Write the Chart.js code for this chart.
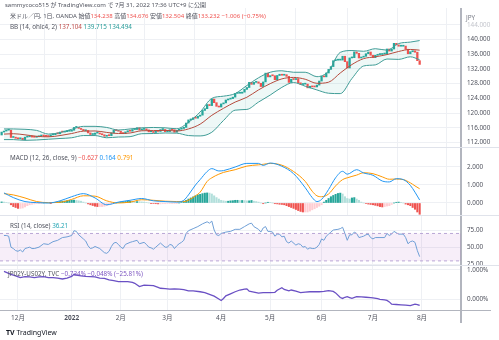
<!DOCTYPE html>
<html>
<head>
<meta charset="utf-8">
<script src="https://cdn.jsdelivr.net/npm/chart.js@4.4.0/dist/chart.umd.min.js"></script>
<style>
  body { margin: 0; width: 499px; height: 340px; overflow: hidden; position: relative; background: #fff;
         font-family: "Noto Sans", "Noto Sans CJK JP", sans-serif; }
  canvas { position: absolute; left: 0; }
  .t { position: absolute; white-space: nowrap; font-size: 6.3px; line-height: 7px; color: #50535e; }
  .r { color: #ef5350; }
  .sep { position: absolute; left: 0; width: 499px; height: 1px; background: #e0e3eb; }
</style>
</head>
<body>
<canvas id="cPrice" width="499" height="139" style="top:8px"></canvas>
<canvas id="cMacd" width="499" height="68" style="top:147px"></canvas>
<canvas id="cRsi" width="499" height="50" style="top:215px"></canvas>
<canvas id="cSpread" width="499" height="75" style="top:265px"></canvas>
<div class="sep" style="top:147px"></div>
<div class="sep" style="top:215px"></div>
<div class="sep" style="top:265px"></div>
<div style="position:absolute;left:460px;top:310px;width:2px;height:13px;background:#b2b5be"></div>
<div style="position:absolute;left:461px;top:310px;width:30px;height:1px;background:#b2b5be"></div>

<div class="t" style="left:5px;top:2px;font-size:6px">sammycoco515 が TradingView.com で 7月 31, 2022 17:36 UTC+9 に公開</div>
<div class="t" style="left:10px;top:13px;font-size:6px">米ドル／円, 1日, OANDA 始値<span class="r">134.238</span> 高値<span class="r">134.676</span> 安値<span class="r">132.504</span> 終値<span class="r">133.232</span> <span class="r">−1.006 (−0.75%)</span></div>
<div class="t" style="left:10px;top:23px">BB (14, ohlc4, 2) <span style="color:#c0504d">137.104</span> <span style="color:#2a9d9a">139.715</span> <span style="color:#2a9d9a">134.494</span></div>
<div class="t" style="left:466px;top:14px;color:#787b86">JPY</div>
<div class="t" style="left:10px;top:154px">MACD (12, 26, close, 9) <span class="r">−0.627</span> <span style="color:#2196f3">0.164</span> <span style="color:#ff9800">0.791</span></div>
<div class="t" style="left:10px;top:222px">RSI (14, close) <span style="color:#26a6b4">36.21</span></div>
<div class="t" style="left:8px;top:270px">JP02Y-US02Y, TVC <span style="color:#7e57c2">−0.734% −0.048% (−25.81%)</span></div>
<div class="t" style="left:6px;top:329px;font-size:7px;color:#131722"><b>TV</b> TradingView</div>

<script>
// USD/JPY daily closes, 2021-11-22 .. 2022-07-29 (one bar per weekday)
const closes = [
  114.85, 115.12, 115.36, 115.36, 113.38,
  113.47, 113.16, 113.02, 113.18, 112.79,
  113.47, 113.56, 113.71, 113.48, 113.43,
  113.56, 113.72, 114.05, 113.71, 113.69,
  113.64, 114.08, 114.14, 114.42, 114.37,
  114.85, 114.84, 114.96, 115.07, 115.08,
  115.34, 116.11, 116.13, 115.84, 115.56,
  115.20, 115.28, 114.62, 114.18, 114.20,
  114.57, 114.59, 114.33, 114.12, 113.70,
  113.96, 113.86, 114.64, 115.32, 115.25,
  115.08, 114.70, 114.43, 114.90, 115.21,
  115.08, 115.53, 115.55, 116.03, 115.42,
  115.57, 115.68, 115.44, 114.91, 115.03,
  114.73, 115.08, 115.01, 115.52, 115.54,
  114.95, 114.98, 115.49, 115.48, 114.80,
  115.31, 115.62, 115.82, 116.13, 117.30,
  118.15, 118.28, 118.73, 118.62, 119.15,
  119.45, 120.73, 121.20, 122.33, 122.04,
  123.81, 122.83, 121.85, 121.65, 122.50,
  122.77, 123.57, 123.80, 123.95, 124.34,
  125.35, 125.39, 125.40, 125.70, 126.45,
  126.95, 128.35, 127.82, 128.35, 128.48,
  128.11, 127.22, 128.47, 130.86, 129.84,
  130.18, 130.15, 129.08, 130.22, 130.56,
  130.29, 130.44, 129.98, 128.34, 129.21,
  129.12, 129.36, 128.23, 127.77, 127.86,
  127.88, 126.86, 127.30, 127.12, 127.11,
  127.62, 128.71, 130.04, 129.85, 130.90,
  131.88, 132.64, 134.24, 134.38, 134.40,
  134.41, 135.45, 133.98, 132.26, 134.99,
  135.07, 136.62, 136.24, 134.97, 135.21,
  135.43, 136.14, 136.60, 135.72, 135.08,
  135.71, 135.90, 135.93, 136.05, 136.07,
  137.42, 136.86, 137.41, 138.96, 138.54,
  138.17, 138.17, 138.21, 137.35, 136.12,
  136.68, 136.92, 136.54, 134.24, 133.23
];
const firstOpen = 114.05;

// month starts (bar index) and their labels
const monthIdx = [7, 30, 51, 71, 94, 115, 137, 159, 180];
const monthLabels = ['12月', '2022', '2月', '3月', '4月', '5月', '6月', '7月', '8月'];

// Bollinger bands (14, ohlc4, 2), read every few bars
const bbIdx = [1, 5, 10, 15, 20, 25, 30, 35, 40, 45, 50, 55, 60, 65, 70, 75, 80, 85, 90, 95,
  100, 105, 110, 115, 120, 125, 130, 135, 140, 145, 150, 155, 160, 165, 170, 175, 179];
const bbUpper = [115.7, 115.7, 115.6, 115.3, 114.3, 114.7, 115.6, 116.4, 116.4, 116.1, 115.4, 115.7, 116.0, 116.1, 116.0, 115.75, 117.5, 120.3, 124.0, 124.6,
  125.3, 127.5, 129.6, 131.1, 131.5, 131.1, 131.1, 129.9, 131.4, 136.5, 137.0, 136.8, 137.5, 137.1, 138.9, 139.3, 139.715];
const bbMid = [114.3, 114.4, 114.1, 113.7, 113.55, 113.9, 114.45, 115.1, 115.15, 114.75, 114.45, 114.6, 115.2, 115.25, 115.3, 115.15, 115.7, 117.0, 119.4, 121.3,
  123.0, 124.3, 126.3, 128.0, 129.3, 129.7, 129.2, 128.1, 128.4, 130.9, 133.2, 134.8, 135.3, 135.9, 136.75, 137.3, 137.104];
const bbLower = [112.8, 112.8, 112.6, 112.7, 112.9, 113.1, 113.3, 113.9, 113.9, 113.3, 113.5, 113.6, 114.4, 114.45, 114.6, 114.55, 113.9, 113.8, 114.8, 118.0,
  120.8, 121.0, 123.0, 124.9, 127.0, 128.3, 127.3, 126.3, 125.4, 125.3, 129.4, 132.8, 133.1, 134.7, 134.6, 135.3, 134.494];

// MACD (12, 26, close, 9)
const macdIdx = [1, 5, 10, 15, 20, 25, 30, 35, 40, 45, 50, 55, 60, 65, 70, 75, 78, 80, 83, 85,
  88, 90, 93, 95, 100, 105, 110, 112, 115, 120, 125, 130, 133, 135, 137, 140, 143, 146, 148, 152,
  155, 159, 163, 166, 169, 172, 175, 177, 179];
const macdLine = [0.56, 0.30, 0.08, 0.02, 0.0, 0.12, 0.35, 0.52, 0.28, -0.10, 0.05, 0.15, 0.25, 0.12, 0.08, 0.05, 0.15, 0.45, 1.0, 1.3,
  1.75, 1.91, 1.78, 1.80, 2.0, 2.2, 2.2, 2.09, 2.22, 2.04, 1.63, 0.85, 0.30, 0.08, 0.20, 0.75, 1.40, 1.76, 1.60, 1.85,
  1.67, 1.54, 1.22, 1.17, 1.35, 1.30, 0.98, 0.60, 0.164];
const signalLine = [0.52, 0.45, 0.28, 0.08, 0.02, 0.04, 0.20, 0.40, 0.38, 0.12, 0.0, 0.05, 0.18, 0.15, 0.10, 0.08, 0.08, 0.15, 0.40, 0.60,
  1.20, 1.40, 1.60, 1.70, 1.85, 2.05, 2.12, 2.15, 2.20, 2.10, 1.75, 1.20, 0.65, 0.40, 0.35, 0.50, 0.95, 1.30, 1.40, 1.55,
  1.68, 1.63, 1.45, 1.32, 1.33, 1.30, 1.12, 0.95, 0.791];
const histValues = [
  0.06, 0.05, 0.03, 0.0,
  -0.1, -0.2, -0.25, -0.3, -0.3, -0.28, -0.22, -0.15,
  -0.1, -0.07, -0.05, -0.03, -0.02, -0.01, 0.0, 0.01, 0.0, -0.01,
  0.02, 0.04, 0.06, 0.08, 0.1, 0.11, 0.13, 0.15, 0.15, 0.16, 0.14, 0.12, 0.1,
  0.05, 0.0, -0.05, -0.1, -0.14, -0.18, -0.2, -0.2, -0.2, -0.18, -0.15, -0.1, -0.06, -0.03,
  0.0, 0.03, 0.05, 0.07, 0.08, 0.1, 0.1, 0.09, 0.08, 0.08, 0.07, 0.06, 0.05, 0.03,
  0.0, -0.02, -0.03, -0.04, -0.05, -0.05, -0.04, -0.04, -0.03, -0.03, -0.02, -0.02, -0.01, 0.0, 0.03,
  0.08, 0.15, 0.22, 0.28, 0.34, 0.4, 0.45, 0.48, 0.52, 0.55, 0.56, 0.55, 0.5,
  0.4, 0.3, 0.22, 0.15, 0.12, 0.1, 0.1, 0.12, 0.13, 0.15,
  0.15, 0.14, 0.14, 0.13, 0.12, 0.12, 0.14, 0.1, 0.08, 0.05,
  0.0, -0.04, 0.0, 0.04, 0.02, 0.0,
  -0.04, -0.05, -0.07, -0.08, -0.1, -0.15, -0.2, -0.25, -0.3, -0.36,
  -0.42, -0.47, -0.5, -0.5, -0.5, -0.45, -0.38, -0.32, -0.25, -0.18, -0.1,
  0.05, 0.15, 0.25, 0.35, 0.42, 0.48, 0.53, 0.55, 0.5, 0.35, 0.25, 0.22, 0.28,
  0.3, 0.22, 0.15, 0.05, 0.0, -0.03, -0.06, -0.08,
  -0.1, -0.13, -0.16, -0.2, -0.22, -0.2, -0.17, -0.15, -0.08,
  0.0, 0.04, 0.05, 0.02, 0.0,
  -0.06, -0.1, -0.15, -0.25, -0.35, -0.5, -0.627
];

// RSI (14, close)
const rsiIdx = [1, 2, 3, 4, 5, 6, 7, 8, 9, 10, 11, 12, 13, 14, 16, 18, 20, 22, 24, 26,
  28, 30, 31, 32, 33, 35, 36, 37, 38, 39, 40, 42, 44, 45, 46, 47, 48, 49, 50, 51,
  52, 53, 55, 56, 58, 59, 61, 62, 63, 64, 65, 66, 68, 70, 71, 72, 73, 74, 75, 76,
  77, 78, 79, 80, 82, 84, 86, 88, 89, 90, 91, 92, 93, 94, 96, 98, 100, 102, 104, 106,
  107, 108, 110, 111, 112, 113, 114, 115, 116, 117, 118, 119, 120, 121, 122, 123, 124, 126, 127, 128,
  129, 130, 131, 132, 133, 134, 135, 136, 137, 138, 139, 140, 141, 142, 144, 145, 146, 147, 148, 149,
  150, 151, 152, 153, 154, 155, 156, 157, 158, 159, 160, 162, 164, 165, 166, 167, 168, 169, 170, 171,
  172, 173, 174, 175, 176, 177, 178, 179];
const rsiValues = [67, 67, 66, 50, 48, 45, 44, 46, 43, 48, 49, 50, 48, 48, 50, 55, 54, 58, 60, 64,
  65, 67, 74, 73, 68, 62, 59, 52, 48, 49, 51, 48, 42, 41, 44, 51, 56, 57, 54, 50,
  48, 54, 57, 58, 60, 55, 57, 54, 50, 49, 47, 50, 56, 50, 50, 54, 53, 48, 52, 55,
  57, 60, 70, 74, 77, 80, 84, 87, 85, 88, 75, 68, 67, 70, 72, 73, 76, 76, 80, 84,
  85, 80, 76, 72, 78, 80, 73, 73, 72, 66, 69, 69, 65, 66, 58, 56, 59, 53, 55, 54,
  50, 51, 47, 49, 48, 48, 50, 54, 62, 60, 66, 69, 72, 75, 76, 77, 79, 70, 60, 68,
  68, 72, 70, 64, 65, 66, 68, 69, 64, 62, 64, 64, 64, 70, 67, 69, 73, 71, 69, 69,
  69, 64, 55, 58, 59, 57, 45, 36.21];
const rsiBands = [70, 30];

// JP02Y-US02Y spread (%)
const spreadIdx = [1, 2, 4, 6, 8, 10, 12, 14, 16, 18, 20, 22, 24, 26, 28, 30, 31, 32, 34, 36,
  38, 40, 42, 44, 46, 48, 50, 52, 54, 56, 57, 59, 61, 63, 65, 67, 68, 70, 72, 74,
  76, 78, 80, 82, 85, 87, 89, 91, 93, 94, 95, 96, 98, 100, 102, 104, 105, 106, 108, 110,
  112, 115, 117, 118, 120, 121, 123, 124, 126, 128, 130, 132, 134, 136, 138, 140, 142, 143, 145, 146,
  147, 148, 149, 150, 152, 154, 156, 158, 159, 161, 162, 164, 165, 166, 167, 169, 171, 173, 175, 177,
  178, 179];
const spreadValues = [0.95, 0.92, 0.85, 0.80, 0.74, 0.77, 0.76, 0.74, 0.76, 0.77, 0.74, 0.74, 0.72, 0.69, 0.72, 0.78, 0.85, 0.82, 0.80, 0.78,
  0.77, 0.76, 0.72, 0.71, 0.66, 0.63, 0.60, 0.60, 0.60, 0.57, 0.54, 0.43, 0.48, 0.47, 0.46, 0.40, 0.37, 0.36, 0.34, 0.35,
  0.34, 0.32, 0.28, 0.28, 0.25, 0.22, 0.16, 0.10, 0.0, -0.05, 0.02, 0.11, 0.18, 0.25, 0.31, 0.34, 0.35, 0.27, 0.24, 0.20,
  0.22, 0.22, 0.23, 0.30, 0.39, 0.33, 0.28, 0.31, 0.27, 0.22, 0.24, 0.25, 0.25, 0.25, 0.26, 0.29, 0.26, 0.21, 0.05, 0.02,
  0.06, 0.08, 0.05, 0.02, 0.08, 0.07, 0.06, 0.05, 0.04, 0.01, -0.01, -0.03, -0.05, -0.10, -0.18, -0.19, -0.20, -0.21, -0.23, -0.18,
  -0.19, -0.22];

const priceTicks = [112, 116, 120, 124, 128, 132, 136, 140, 144];
const macdTicks = [0, 1, 2];
const rsiTicks = [25, 50, 75];
const spreadTicks = [0, 1];

const FONT = '"Noto Sans", "Noto Sans CJK JP", sans-serif';
const GRID = '#eef0f4';
const AXIS = '#b2b5be';
const X_MIN = -0.7, X_MAX = 196.7;

const pts = (idx, vals) => idx.map((x, k) => ({ x: x, y: vals[k] }));

function xScale(showLabels) {
  return {
    type: 'linear', min: X_MIN, max: X_MAX, offset: false,
    afterBuildTicks: s => { s.ticks = monthIdx.map(v => ({ value: v })); },
    grid: { color: GRID, drawTicks: false },
    border: { display: showLabels, color: AXIS, width: 1 },
    ticks: {
      display: showLabels, autoSkip: false, maxRotation: 0, padding: 4, color: '#50535e',
      font: ctx => ({ family: FONT, size: 6.5, weight: monthLabels[ctx.index] === '2022' ? 'bold' : 'normal' }),
      callback: (v, i) => monthLabels[i]
    },
    afterFit: s => { s.height = showLabels ? 30 : 0; s.paddingLeft = 0; s.paddingRight = 0; }
  };
}

function yScale(min, max, ticks, fmt) {
  return {
    position: 'right', min: min, max: max,
    afterBuildTicks: s => { s.ticks = ticks.map(v => ({ value: v })); },
    grid: { color: GRID, drawTicks: false },
    border: { color: AXIS, width: 2 },
    ticks: {
      padding: 6, font: { family: FONT, size: 6.3 },
      color: ctx => (ctx.tick && ctx.tick.value === 144 ? '#c3c5cc' : '#50535e'),
      callback: fmt
    },
    afterFit: s => { s.width = 38; s.paddingTop = 0; s.paddingBottom = 0; }
  };
}

const baseOptions = (scales) => ({
  responsive: false, animation: false,
  layout: { padding: 0 },
  plugins: { legend: { display: false }, tooltip: { enabled: false }, filler: { drawTime: 'beforeDatasetsDraw' } },
  elements: { point: { radius: 0 } },
  scales: scales
});

// ---- price + BB ----
const opens = closes.map((c, i) => (i === 0 ? firstOpen : closes[i - 1]));
new Chart(document.getElementById('cPrice'), {
  type: 'bar',
  data: {
    datasets: [
      { type: 'line', data: pts(bbIdx, bbUpper), borderColor: '#3f9c96', borderWidth: 1, fill: '+2',
        backgroundColor: 'rgba(38,166,154,0.08)', cubicInterpolationMode: 'monotone', order: 1 },
      { type: 'line', data: pts(bbIdx, bbMid), borderColor: '#b54a3c', borderWidth: 1, fill: false,
        cubicInterpolationMode: 'monotone', order: 1 },
      { type: 'line', data: pts(bbIdx, bbLower), borderColor: '#3f9c96', borderWidth: 1, fill: false,
        cubicInterpolationMode: 'monotone', order: 1 },
      { type: 'bar', data: closes.map((c, i) => ({ x: i, y: [opens[i], c] })),
        backgroundColor: closes.map((c, i) => (c >= opens[i] ? '#26a69a' : '#ef5350')),
        barThickness: 1.6, minBarLength: 1, order: 2 }
    ]
  },
  options: baseOptions({ x: xScale(false), y: yScale(110.79, 148.56, priceTicks, v => v.toFixed(3)) })
});

// ---- MACD ----
const histColors = histValues.map((v, i) => {
  const p = i === 0 ? v : histValues[i - 1];
  if (v >= 0) return v >= p ? '#26a69a' : '#b2dfdb';
  return v < p ? '#ef5350' : '#ffcdd2';
});
new Chart(document.getElementById('cMacd'), {
  type: 'bar',
  data: {
    datasets: [
      { type: 'line', data: pts(macdIdx, macdLine), borderColor: '#2196f3', borderWidth: 1,
        cubicInterpolationMode: 'monotone', order: 1 },
      { type: 'line', data: pts(macdIdx, signalLine), borderColor: '#ff9800', borderWidth: 1,
        cubicInterpolationMode: 'monotone', order: 1 },
      { type: 'bar', data: histValues.map((v, i) => ({ x: i, y: v })), backgroundColor: histColors,
        barThickness: 1.4, order: 2 }
    ]
  },
  options: baseOptions({ x: xScale(false), y: yScale(-0.667, 3.111, macdTicks, v => v.toFixed(3)) })
});

// ---- RSI ----
new Chart(document.getElementById('cRsi'), {
  type: 'line',
  data: {
    datasets: [
      { data: [{ x: X_MIN, y: rsiBands[0] }, { x: X_MAX, y: rsiBands[0] }], borderColor: '#b9a6d6',
        borderWidth: 1, borderDash: [3, 3], fill: '+1', backgroundColor: 'rgba(156,39,176,0.08)' },
      { data: [{ x: X_MIN, y: rsiBands[1] }, { x: X_MAX, y: rsiBands[1] }], borderColor: '#b9a6d6',
        borderWidth: 1, borderDash: [3, 3], fill: false },
      { data: pts(rsiIdx, rsiValues), borderColor: '#6f9fd6', borderWidth: 1, fill: false }
    ]
  },
  options: baseOptions({ x: xScale(false), y: yScale(24.0, 96.9, rsiTicks, v => v.toFixed(2)) })
});

// ---- JP02Y-US02Y ----
new Chart(document.getElementById('cSpread'), {
  type: 'line',
  data: {
    datasets: [
      { data: pts(spreadIdx, spreadValues), borderColor: '#6a50c4', borderWidth: 1.3, fill: false }
    ]
  },
  options: baseOptions({ x: xScale(true), y: yScale(-0.379, 1.172, spreadTicks, v => v.toFixed(3) + '%') })
});
</script>
</body>
</html>
